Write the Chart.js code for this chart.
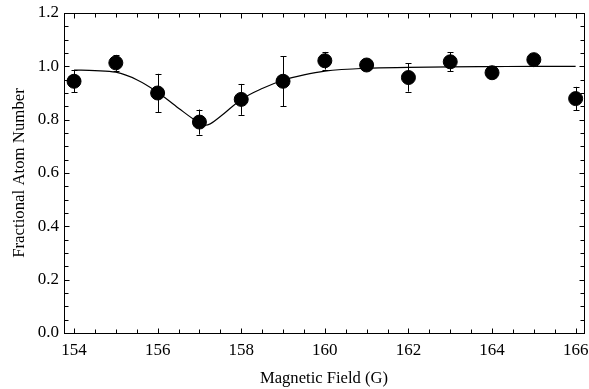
<!DOCTYPE html>
<html>
<head>
<meta charset="utf-8">
<script src="https://cdn.jsdelivr.net/npm/chart.js@4/dist/chart.umd.min.js"></script>
<style>
html,body{margin:0;padding:0;background:#fff;}
#wrap{width:589px;height:389px;}
</style>
</head>
<body>
<div id="wrap"><canvas id="c" width="589" height="389"></canvas></div>
<script>
// Measured data
const fieldG = [154,155,156,157,158,159,160,161,162,163,164,165,166];
const atomFraction = [0.944,1.013,0.900,0.791,0.876,0.944,1.021,1.005,0.958,1.017,0.976,1.025,0.879];
const atomError = [0.042,0.030,0.072,0.047,0.058,0.094,0.033,0.008,0.053,0.036,0.021,0.012,0.044];
// Fit curve
const fitField = [154,154.5,155,155.5,156,156.5,157,157.15,157.5,158,158.5,159,159.5,160,161,162,163,164,165,166];
const fitValue = [0.986,0.984,0.978,0.950,0.903,0.843,0.788,0.779,0.812,0.876,0.917,0.948,0.968,0.982,0.993,0.996,0.998,0.999,1.0,1.0];
const xMajorTicks = [154,156,158,160,162,164,166];
const yMajorTicks = [0.0,0.2,0.4,0.6,0.8,1.0,1.2];

const FONT = "'Liberation Serif','DejaVu Serif',serif";

const framePlugin = {
  id:'frame',
  afterDatasetsDraw(chart){
    const {ctx, chartArea:a, scales:{x,y}} = chart;
    ctx.save();
    ctx.strokeStyle='#000'; ctx.lineWidth=1;
    for(let i=0;i<fieldG.length;i++){
      const px=Math.round(x.getPixelForValue(fieldG[i]))+0.5;
      const y1=y.getPixelForValue(atomFraction[i]+atomError[i]);
      const y2=y.getPixelForValue(atomFraction[i]-atomError[i]);
      ctx.beginPath();
      ctx.moveTo(px,y1);ctx.lineTo(px,y2);
      ctx.moveTo(px-3,Math.round(y1)+0.5);ctx.lineTo(px+3,Math.round(y1)+0.5);
      ctx.moveTo(px-3,Math.round(y2)+0.5);ctx.lineTo(px+3,Math.round(y2)+0.5);
      ctx.stroke();
    }
    const L=Math.round(a.left)+0.5,R=Math.round(a.right)+0.5,T=Math.round(a.top)+0.5,B=Math.round(a.bottom)+0.5;
    ctx.strokeRect(L,T,R-L,B-T);
    ctx.beginPath();
    for(let v=154;v<=166.001;v+=0.5){
      const px=Math.round(x.getPixelForValue(v))+0.5;
      const len = (Math.abs(v/2-Math.round(v/2))<1e-6)?5:4;
      ctx.moveTo(px,B);ctx.lineTo(px,B-len);
      ctx.moveTo(px,T);ctx.lineTo(px,T+len);
    }
    for(let v=0;v<=1.2001;v+=0.05){
      const py=Math.round(y.getPixelForValue(v))+0.5;
      const len = (Math.abs(v*5-Math.round(v*5))<1e-6)?5:4;
      ctx.moveTo(L,py);ctx.lineTo(L+len,py);
      ctx.moveTo(R,py);ctx.lineTo(R-len,py);
    }
    ctx.stroke();
    ctx.restore();
  }
};

new Chart(document.getElementById('c'),{
  type:'scatter',
  data:{
    datasets:[
      {
        type:'line',
        data: fitField.map((v,i)=>({x:v,y:fitValue[i]})),
        borderColor:'#000',borderWidth:1.2,pointRadius:0,fill:false,
        cubicInterpolationMode:'monotone',order:2
      },
      {
        data: fieldG.map((v,i)=>({x:v,y:atomFraction[i]})),
        backgroundColor:'#000',borderColor:'#000',pointRadius:7,pointHoverRadius:7,order:1
      }
    ]
  },
  options:{
    responsive:false,animation:false,
    layout:{autoPadding:false,padding:{top:13,right:5,left:10,bottom:0}},
    plugins:{legend:{display:false},tooltip:{enabled:false}},
    scales:{
      x:{
        type:'linear',min:153.76,max:166.2,
        afterBuildTicks(s){s.ticks=xMajorTicks.map(v=>({value:v}));},
        afterFit(s){s.height=56;s.paddingLeft=0;s.paddingRight=0;},
        grid:{display:false,drawTicks:false,tickLength:0},border:{display:false},
        ticks:{color:'#000',font:{family:FONT,size:17},padding:7,maxRotation:0,
          callback:v=>String(v)},
        title:{display:true,text:'Magnetic Field (G)',color:'#000',font:{family:FONT,size:16.6},padding:{top:6,bottom:0}}
      },
      y:{
        min:0,max:1.2,
        afterBuildTicks(s){s.ticks=yMajorTicks.map(v=>({value:v}));},
        afterFit(s){s.width=54;s.paddingTop=0;s.paddingBottom=0;},
        grid:{display:false,drawTicks:false,tickLength:0},border:{display:false},
        ticks:{color:'#000',font:{family:FONT,size:17},padding:5,
          callback:v=>Number(v).toFixed(1)},
        title:{display:true,text:'Fractional Atom Number',color:'#000',font:{family:FONT,size:16.8},padding:{top:0,bottom:2}}
      }
    }
  },
  plugins:[framePlugin]
});
</script>
</body>
</html>
